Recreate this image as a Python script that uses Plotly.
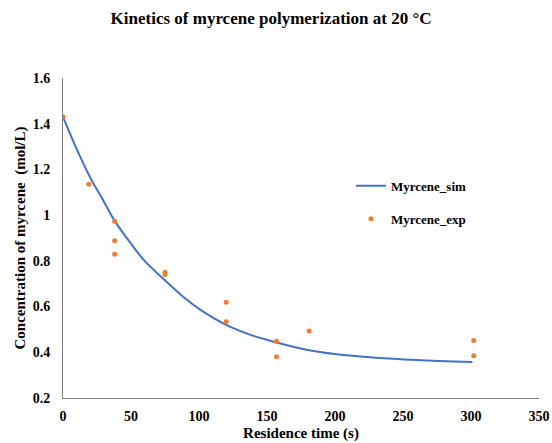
import plotly.graph_objects as go

# Simulated curve
t_sim = [0, 10, 20, 30, 38, 50, 60, 75, 90, 100, 120, 140, 157, 180, 200, 230, 260, 301]
c_sim = [1.43, 1.29, 1.165, 1.06, 0.975, 0.875, 0.80, 0.715, 0.635, 0.59, 0.52, 0.472, 0.443, 0.41, 0.392, 0.376, 0.366, 0.357]

t_exp = [0, 19, 38, 38, 38, 75, 75, 120, 120, 157, 157, 181, 302, 302]
c_exp = [1.43, 1.135, 0.973, 0.888, 0.829, 0.75, 0.74, 0.619, 0.534, 0.448, 0.381, 0.493, 0.452, 0.385]

x_ticks = [0, 50, 100, 150, 200, 250, 300, 350]
y_ticks = [0.2, 0.4, 0.6, 0.8, 1.0, 1.2, 1.4, 1.6]
y_ticktext = ["0.2", "0.4", "0.6", "0.8", "1", "1.2", "1.4", "1.6"]

FONT = "Liberation Serif"

fig = go.Figure()
fig.add_trace(go.Scatter(
    x=t_sim, y=c_sim, mode="lines", name="Myrcene_sim",
    line=dict(color="#4472C4", width=2, shape="spline"),
    legendgroup="a",
))
fig.add_trace(go.Scatter(
    x=t_exp, y=c_exp, mode="markers", name="Myrcene_exp",
    marker=dict(color="#ED7D31", size=5),
    legendgroup="b",
))

fig.update_layout(
    width=552, height=443,
    margin=dict(l=63, r=13, t=78, b=45, autoexpand=False),
    paper_bgcolor="white", plot_bgcolor="white",
    font=dict(family=FONT, color="#000000"),
    title=dict(
        text="Kinetics of myrcene polymerization at 20 °C",
        font=dict(family=FONT, size=17, weight="bold", color="#000000"),
        x=0.491, xanchor="center", y=0.959, yanchor="middle",
    ),
    showlegend=True,
    legend=dict(
        x=0.605, y=0.71, xanchor="left", yanchor="top",
        font=dict(family=FONT, size=13, weight="bold", color="#000000"),
        tracegroupgap=13, traceorder="grouped",
        bgcolor="rgba(0,0,0,0)",
    ),
    xaxis=dict(
        range=[0, 350], tickvals=x_ticks, ticks="",
        showgrid=False, zeroline=False, automargin=False,
        showline=True, linecolor="#7f7f7f", linewidth=1,
        ticklabelstandoff=5,
        tickfont=dict(family=FONT, size=14, weight="bold", color="#000000"),
        title=dict(text="Residence time (s)", standoff=4,
                   font=dict(family=FONT, size=15, weight="bold", color="#000000")),
    ),
    yaxis=dict(
        range=[0.2, 1.6], tickvals=y_ticks, ticktext=y_ticktext, ticks="",
        showgrid=False, zeroline=False, automargin=False,
        showline=True, linecolor="#7f7f7f", linewidth=1,
        ticklabelstandoff=9,
        tickfont=dict(family=FONT, size=14, weight="bold", color="#000000"),
        title=dict(text="Concentration of myrcene  (mol/L)", standoff=3,
                   font=dict(family=FONT, size=15, weight="bold", color="#000000")),
    ),
)

fig.write_html("out.html", config={"displayModeBar": False},
               post_script="document.body.style.margin='0';")
